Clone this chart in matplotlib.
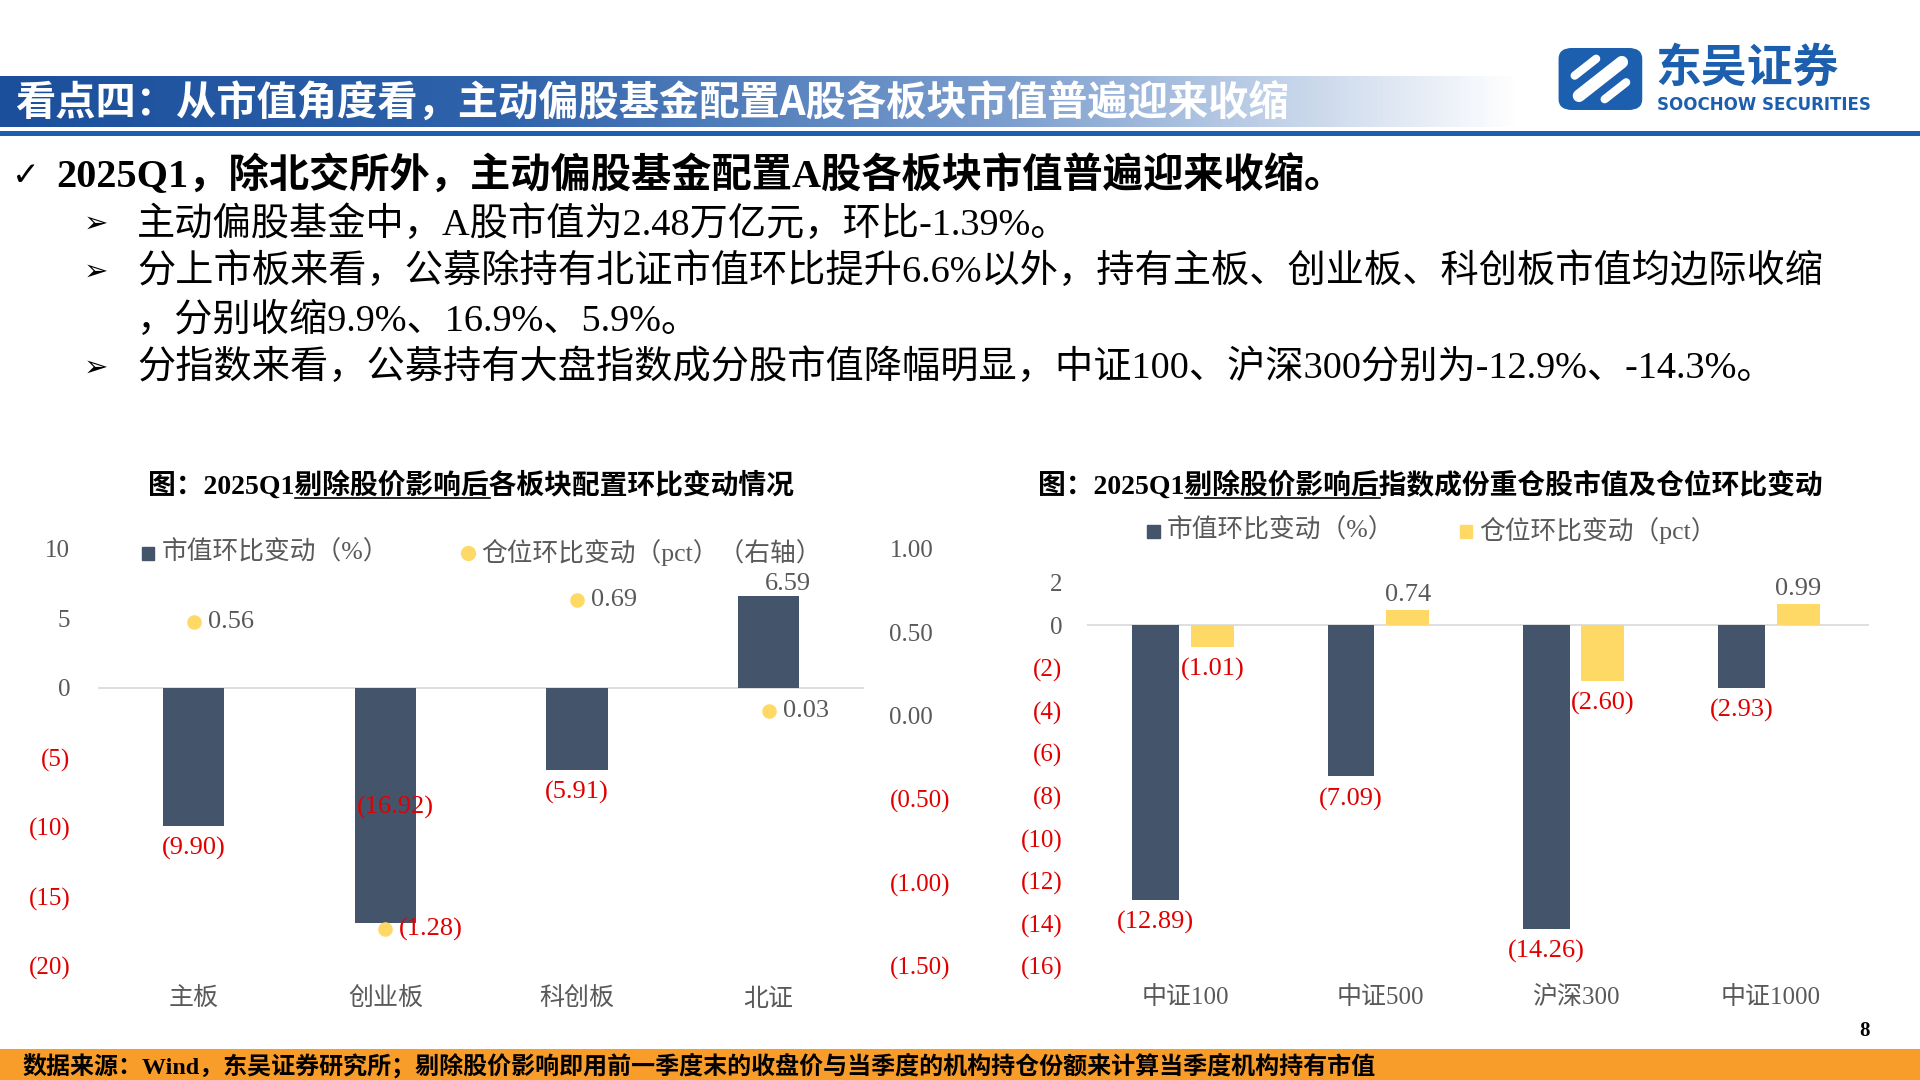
import matplotlib
matplotlib.use("Agg")
import matplotlib.pyplot as plt
import numpy as np
from matplotlib.patches import Rectangle, FancyBboxPatch
from matplotlib.colors import LinearSegmentedColormap

CJK = "Noto Sans CJK SC"
SER = "Liberation Serif"
plt.rcParams["font.family"] = [SER, CJK]

# ---------- data ----------
board_cats = ["主板", "创业板", "科创板", "北证"]
board_mv = [-9.90, -16.92, -5.91, 6.59]
board_pos = [0.56, -1.28, 0.69, 0.03]
left_ticks = [10, 5, 0, -5, -10, -15, -20]
right_ticks = [1.00, 0.50, 0.00, -0.50, -1.00, -1.50]

idx_cats = ["中证100", "中证500", "沪深300", "中证1000"]
idx_mv = [-12.89, -7.09, -14.26, -2.93]
idx_pos = [-1.01, 0.74, -2.60, 0.99]
idx_ticks = [2, 0, -2, -4, -6, -8, -10, -12, -14, -16]

BAR = "#44546a"
YEL = "#ffd966"
RED = "#e00000"
GRY = "#595959"
FS = 17

W, H = 1568, 882
fig = plt.figure(figsize=(19.2, 10.8), dpi=100)
def X(x): return x / W
def Y(y): return 1 - y / H
def fmt(v, d=2):
    return f"({abs(v):.{d}f})" if v < 0 else f"{v:.{d}f}"

# ---------- header ----------
gax = fig.add_axes([0, Y(104), X(1240), (104 - 62) / H])
grad = np.linspace(0, 1, 512)[None, :]
cm = LinearSegmentedColormap.from_list("g", ["#1b4f9c", "#2f63ab", "#7d9fcf", "#ffffff"])
gax.imshow(grad, aspect="auto", cmap=cm, extent=[0, 1, 0, 1])
gax.axis("off")
fig.text(X(12), Y(85), "看点四：从市值角度看，主动偏股基金配置A股各板块市值普遍迎来收缩",
         color="white", fontsize=29, fontweight="bold", family=CJK, va="center")
fig.add_artist(Rectangle((0, Y(111)), 1, 4 / H, transform=fig.transFigure, color="#1b5fae", lw=0))
# logo
lax = fig.add_axes([X(1272), Y(92), X(70), 55 / H])
lax.set_xlim(0, 1); lax.set_ylim(0, 1); lax.axis("off")
lax.add_patch(FancyBboxPatch((0.02, 0.05), 0.96, 0.9, boxstyle="round,pad=0,rounding_size=0.15", color="#1b5fae"))
lax.plot([0.25, 0.75], [0.25, 0.75], color="white", lw=9, solid_capstyle="round")
lax.plot([0.2, 0.45], [0.55, 0.8], color="white", lw=6, solid_capstyle="round")
lax.plot([0.55, 0.8], [0.2, 0.45], color="white", lw=6, solid_capstyle="round")
fig.text(X(1352), Y(56), "东吴证券", fontsize=33, family=CJK, color="#1b5fae", va="center", fontweight="bold")
fig.text(X(1353), Y(86), "SOOCHOW SECURITIES", fontsize=12, family="DejaVu Sans", color="#1b5fae",
         va="center", fontweight="bold")

# ---------- bullets ----------
fig.text(X(10), Y(143), "✓", fontsize=24, family="DejaVu Sans", va="center")
fig.text(X(46), Y(143), "2025Q1，除北交所外，主动偏股基金配置A股各板块市值普遍迎来收缩。",
         fontsize=29, fontweight="bold", va="center", family=[SER, CJK])
subs = [(183, "主动偏股基金中，A股市值为2.48万亿元，环比-1.39%。"),
        (222, "分上市板来看，公募除持有北证市值环比提升6.6%以外，持有主板、创业板、科创板市值均边际收缩"),
        (300, "分指数来看，公募持有大盘指数成分股市值降幅明显，中证100、沪深300分别为-12.9%、-14.3%。")]
for y, t in subs:
    fig.text(X(68), Y(y), "➢", fontsize=21, family="DejaVu Sans", va="center")
    fig.text(X(112), Y(y), t, fontsize=27.5, va="center", family=[SER, CJK])
fig.text(X(112), Y(262), "，分别收缩9.9%、16.9%、5.9%。", fontsize=27.5, va="center", family=[SER, CJK])

# ---------- chart titles ----------
def title(x, y, pre, und, post, ux0, ux1):
    fig.text(X(x), Y(y), pre + und + post, fontsize=20, fontweight="bold", va="center", family=[SER, CJK])
    fig.add_artist(plt.Line2D([X(ux0), X(ux1)], [Y(y + 11), Y(y + 11)], color="black", lw=1.2))
title(121, 396, "图：2025Q1", "剔除股价影响后", "各板块配置环比变动情况", 241, 400)
title(848, 396, "图：2025Q1", "剔除股价影响后", "指数成份重仓股市值及仓位环比变动", 968, 1127)

# ---------- left chart ----------
ax = fig.add_axes([X(80), Y(789), X(706) - X(80), (789 - 448) / H])
x = np.arange(len(board_cats))
ax.bar(x, board_mv, width=0.32, color=BAR, zorder=2)
ax.set_xlim(-0.5, 3.5); ax.set_ylim(-20, 10)
ax.axhline(0, color="#d9d9d9", lw=1.2, zorder=1)
for s in ax.spines.values(): s.set_visible(False)
ax.set_yticks(left_ticks)
ax.set_yticklabels([fmt(v, 0) for v in left_ticks], fontsize=FS + 1)
for lab, v in zip(ax.get_yticklabels(), left_ticks):
    lab.set_color(RED if v < 0 else GRY)
ax.tick_params(axis="y", length=0, pad=20)
ax.set_xticks(x); ax.set_xticklabels(board_cats, fontsize=FS + 1, color=GRY, family=CJK)
ax.tick_params(axis="x", length=0, pad=14)
for i, v in enumerate(board_mv):
    if v >= 0:
        ax.annotate(fmt(v), (i + 0.1, v), xytext=(0, 1), textcoords="offset points",
                    ha="center", va="bottom", fontsize=FS + 2, color=GRY)
    elif i == 1:
        ax.annotate(fmt(v), (i + 0.05, v), xytext=(0, 92), textcoords="offset points",
                    ha="center", va="top", fontsize=FS + 2, color=RED)
    else:
        ax.annotate(fmt(v), (i, v), xytext=(0, -8), textcoords="offset points",
                    ha="center", va="top", fontsize=FS + 2, color=RED)
ax2 = ax.twinx()
ax2.set_ylim(-1.5, 1.0)
ax2.scatter(x, board_pos, s=90, color=YEL, zorder=3)
for s in ax2.spines.values(): s.set_visible(False)
ax2.set_yticks(right_ticks)
ax2.set_yticklabels([fmt(v) for v in right_ticks], fontsize=FS + 1)
for lab, v in zip(ax2.get_yticklabels(), right_ticks):
    lab.set_color(RED if v < 0 else GRY)
ax2.tick_params(axis="y", length=0, pad=18)
for i, v in enumerate(board_pos):
    ax2.annotate(fmt(v), (i, v), xytext=(10, 0), textcoords="offset points",
                 ha="left", va="center", fontsize=FS + 2, color=RED if v < 0 else GRY)
# legend left
fig.add_artist(Rectangle((X(116), Y(457)), 10 / W, 10 / H, transform=fig.transFigure, color=BAR))
fig.text(X(132), Y(451), "市值环比变动（%）", fontsize=18.5, color=GRY, va="center", family=[SER, CJK])
fig.add_artist(plt.Line2D([X(382)], [Y(452)], marker="o", ms=10, color=YEL, transform=fig.transFigure))
fig.text(X(393), Y(451), "仓位环比变动（pct）（右轴）", fontsize=18.5, color=GRY, va="center", family=[SER, CJK])

# ---------- right chart ----------
bx = fig.add_axes([X(888), Y(789), X(1526) - X(888), (789 - 476) / H])
xi = np.arange(len(idx_cats))
bx.bar(xi - 0.15, idx_mv, width=0.24, color=BAR, zorder=2)
bx.bar(xi + 0.14, idx_pos, width=0.22, color=YEL, zorder=2)
bx.set_xlim(-0.5, 3.5); bx.set_ylim(-16, 2)
bx.axhline(0, color="#d9d9d9", lw=1.2, zorder=1)
for s in bx.spines.values(): s.set_visible(False)
bx.set_yticks(idx_ticks)
bx.set_yticklabels([fmt(v, 0) for v in idx_ticks], fontsize=FS + 1)
for lab, v in zip(bx.get_yticklabels(), idx_ticks):
    lab.set_color(RED if v < 0 else GRY)
bx.tick_params(axis="y", length=0, pad=18)
bx.set_xticks(xi); bx.set_xticklabels(idx_cats, fontsize=FS + 1, color=GRY, family=[SER, CJK])
bx.tick_params(axis="x", length=0, pad=14)
for i, v in enumerate(idx_mv):
    bx.annotate(fmt(v), (i - 0.15, v), xytext=(0, -8), textcoords="offset points",
                ha="center", va="top", fontsize=FS + 2, color=RED)
for i, v in enumerate(idx_pos):
    if v >= 0:
        bx.annotate(fmt(v), (i + 0.14, v), xytext=(0, 3), textcoords="offset points",
                    ha="center", va="bottom", fontsize=FS + 2, color=GRY)
    else:
        bx.annotate(fmt(v), (i + 0.14, v), xytext=(0, -8), textcoords="offset points",
                    ha="center", va="top", fontsize=FS + 2, color=RED)
fig.add_artist(Rectangle((X(937), Y(439)), 10 / W, 10 / H, transform=fig.transFigure, color=BAR))
fig.text(X(953), Y(433), "市值环比变动（%）", fontsize=18.5, color=GRY, va="center", family=[SER, CJK])
fig.add_artist(Rectangle((X(1192), Y(439)), 10 / W, 10 / H, transform=fig.transFigure, color=YEL))
fig.text(X(1208), Y(433), "仓位环比变动（pct）", fontsize=18.5, color=GRY, va="center", family=[SER, CJK])

# ---------- footer ----------
fig.add_artist(Rectangle((0, 0), 1, 25 / H, transform=fig.transFigure, color="#f99d2a", lw=0))
fig.text(X(18), Y(870), "数据来源：Wind，东吴证券研究所；剔除股价影响即用前一季度末的收盘价与当季度的机构持仓份额来计算当季度机构持有市值",
         fontsize=17.3, fontweight="bold", va="center", family=[SER, CJK])
fig.text(X(1523), Y(842), "8", fontsize=15, fontweight="bold", va="center", ha="center")

fig.savefig("out.png", dpi=100, facecolor="white")
